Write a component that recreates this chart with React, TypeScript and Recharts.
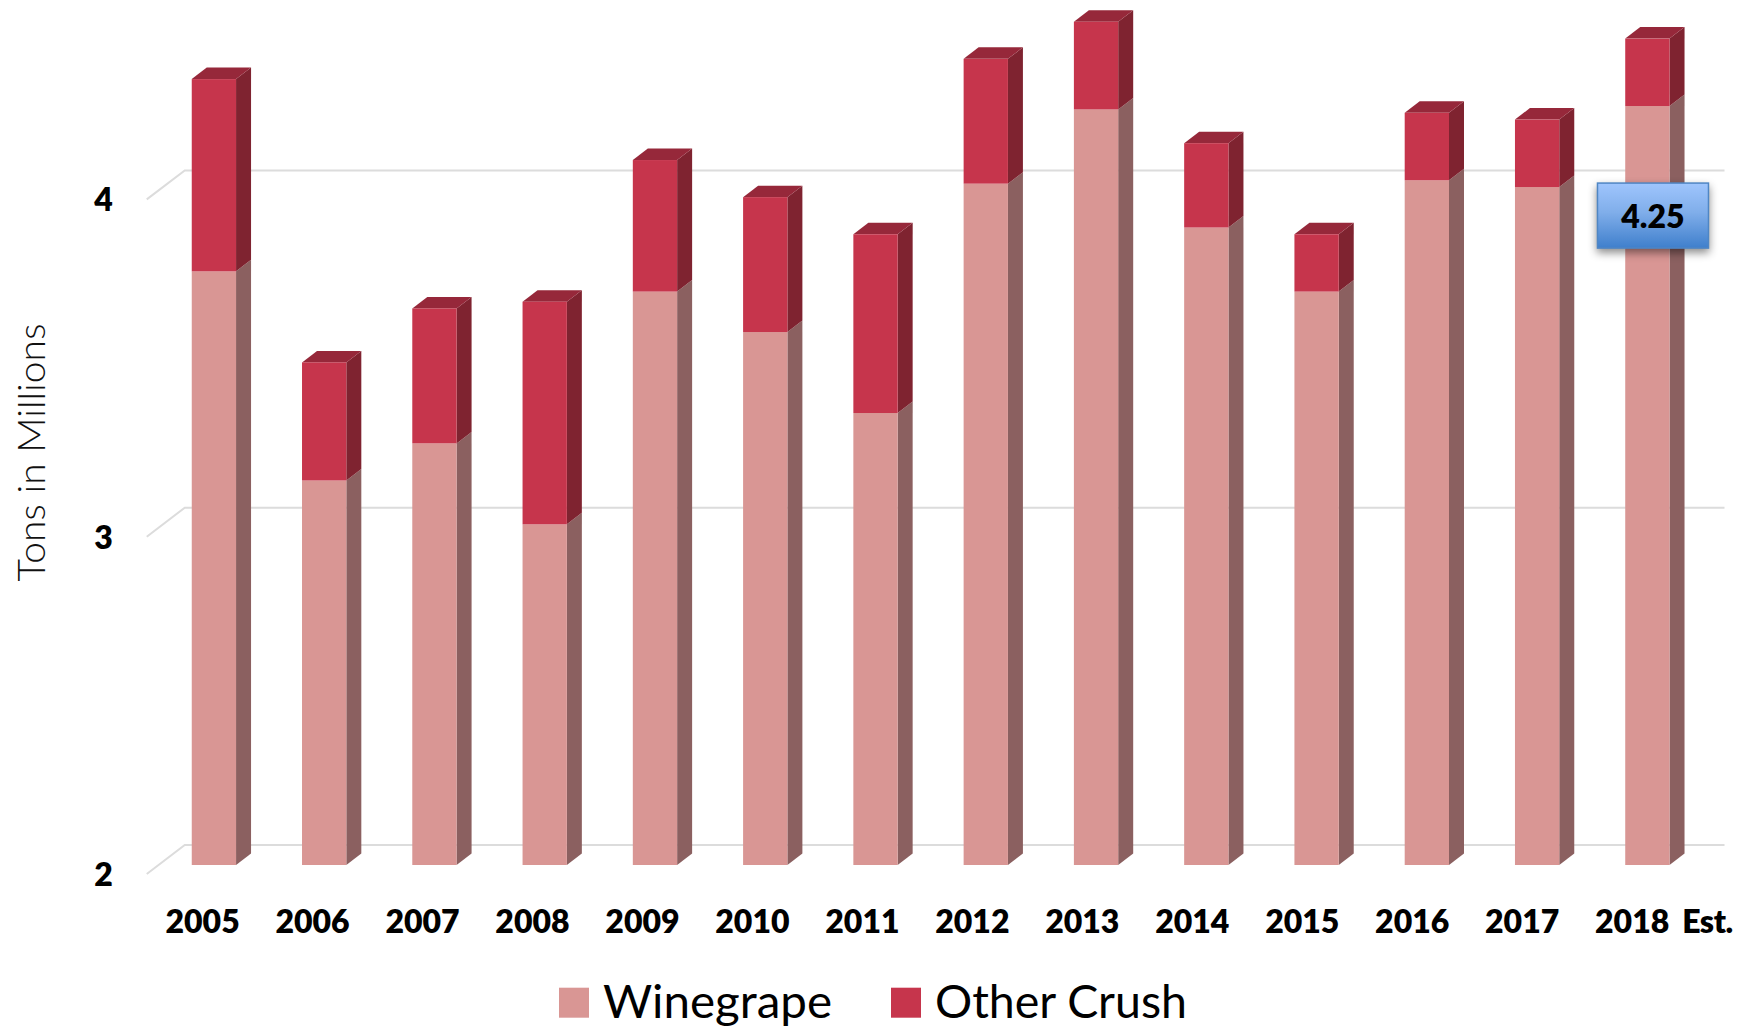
import { BarChart, Bar, XAxis, YAxis, CartesianGrid, Legend, LabelList } from "recharts";

const years = ["2005", "2006", "2007", "2008", "2009", "2010", "2011", "2012", "2013", "2014", "2015", "2016", "2017", "2018 Est."];
const winegrape = [3.76, 3.14, 3.25, 3.01, 3.70, 3.58, 3.34, 4.02, 4.24, 3.89, 3.70, 4.03, 4.01, 4.25];
const otherCrush = [0.57, 0.35, 0.40, 0.66, 0.39, 0.40, 0.53, 0.37, 0.26, 0.25, 0.17, 0.20, 0.20, 0.20];
const yTicks = [2, 3, 4];

const data = years.map((year, i) => ({ year, winegrape: winegrape[i], otherCrush: otherCrush[i] }));

const FONT = "Lato, sans-serif";
const DEPTH_X = 15;
const DEPTH_Y = 11.5;

// Front face plus extruded side (and top for the upper segment)
function Block({ x, y, width, height, fill, sideFill, topFill }: any) {
  const r = x + width;
  const b = y + height;
  return (
    <g>
      <polygon
        points={`${r},${y} ${r + DEPTH_X},${y - DEPTH_Y} ${r + DEPTH_X},${b - DEPTH_Y} ${r},${b}`}
        fill={sideFill}
      />
      {topFill && (
        <polygon
          points={`${x},${y} ${x + DEPTH_X},${y - DEPTH_Y} ${r + DEPTH_X},${y - DEPTH_Y} ${r},${y}`}
          fill={topFill}
        />
      )}
      <rect x={x} y={y} width={width} height={height} fill={fill} />
    </g>
  );
}

// Grid line with the 3D floor/wall bend on the left
function BentGridLine({ x1, x2, y1 }: any) {
  return (
    <polyline
      points={`${x1 - 12},${y1 + 9} ${x1 + 26},${y1 - 20} ${x2 + 22},${y1 - 20}`}
      fill="none"
      stroke="#dcdcdc"
      strokeWidth={2}
    />
  );
}

function YearTick({ x, payload, index }: any) {
  const [year, suffix] = String(payload.value).split(" ");
  const cx = x - 11.3 - index * 0.3;
  return (
    <g>
      <text x={cx} y={933} textAnchor="middle" fontFamily={FONT} fontWeight={800} fontSize={32} fill="#000">
        {year}
      </text>
      {suffix && (
        <text x={cx + 50} y={933} fontFamily={FONT} fontWeight={800} fontSize={32} fill="#000" textLength={51}>
          {suffix}
        </text>
      )}
    </g>
  );
}

function ValueTick({ y, payload }: any) {
  return (
    <text x={103.5} y={y + 21} textAnchor="middle" fontFamily={FONT} fontWeight={800} fontSize={32} fill="#000">
      {payload.value}
    </text>
  );
}

function Callout({ x, y, width, value, index }: any) {
  if (index !== years.length - 1) return null;
  const cx = x + width / 2 + 5.6;
  return (
    <g>
      <rect
        x={cx - 55.5}
        y={y + 77}
        width={111}
        height={65}
        fill="url(#calloutFill)"
        stroke="#4f86c4"
        strokeWidth={1.5}
        style={{ filter: "drop-shadow(0 4px 4px rgba(0,0,0,0.45))" }}
      />
      <text x={cx} y={y + 122} textAnchor="middle" fontFamily={FONT} fontWeight={800} fontSize={32} fill="#000">
        {value}
      </text>
    </g>
  );
}

function LegendSvg({ payload }: any) {
  const widths = [229, 252];
  const starts = [559, 891];
  return (
    <svg width={1745} height={48} style={{ display: "block" }}>
      {payload.map((item: any, i: number) => (
        <g key={item.value}>
          <rect x={starts[i]} y={7.7} width={30} height={30} fill={item.color} />
          <text
            x={starts[i] + 44}
            y={38}
            fontFamily={FONT}
            fontSize={46}
            fill="#000"
            textLength={widths[i]}
            lengthAdjust="spacingAndGlyphs"
          >
            {item.value}
          </text>
        </g>
      ))}
    </svg>
  );
}

export default function App() {
  return (
    <div style={{ position: "absolute", left: 0, top: 0, background: "#fff" }}>
      <BarChart
        width={1745}
        height={1028}
        data={data}
        barCategoryGap={0}
        margin={{ top: 4.885, right: 42.5, left: 0, bottom: 35 }}
      >
        <defs>
          <linearGradient id="calloutFill" x1="0" y1="0" x2="0" y2="1">
            <stop offset="0%" stopColor="#9fc5fd" />
            <stop offset="45%" stopColor="#80aeea" />
            <stop offset="100%" stopColor="#3f7fcc" />
          </linearGradient>
        </defs>
        <CartesianGrid vertical={false} horizontalValues={yTicks} horizontal={<BentGridLine />} />
        <XAxis dataKey="year" axisLine={false} tickLine={false} interval={0} tick={<YearTick />} height={80} />
        <YAxis
          domain={[2, 4.55]}
          allowDataOverflow
          ticks={yTicks}
          axisLine={false}
          tickLine={false}
          width={158.75}
          tick={<ValueTick />}
          label={{
            content: () => (
              <text
                x={45}
                y={452.5}
                transform="rotate(-90 45 452.5)"
                textAnchor="middle"
                fontFamily={FONT}
                fontWeight={300}
                fontSize={37}
                fill="#111"
                textLength={258}
                lengthAdjust="spacingAndGlyphs"
              >
                Tons in Millions
              </text>
            ),
          }}
        />
        <Legend
          verticalAlign="bottom"
          itemSorter={null}
          content={<LegendSvg />}
          wrapperStyle={{ position: "absolute", left: 0, top: 980, width: 1745, height: 48 }}
        />
        <Bar
          dataKey="winegrape"
          name="Winegrape"
          stackId="crush"
          fill="#d99694"
          barSize={44.3}
          isAnimationActive={false}
          shape={<Block sideFill="#8b6060" />}
        >
          <LabelList dataKey="winegrape" content={<Callout />} />
        </Bar>
        <Bar
          dataKey="otherCrush"
          name="Other Crush"
          stackId="crush"
          fill="#c6354c"
          barSize={44.3}
          isAnimationActive={false}
          shape={<Block sideFill="#7f2330" topFill="#96283a" />}
        />
      </BarChart>
    </div>
  );
}
